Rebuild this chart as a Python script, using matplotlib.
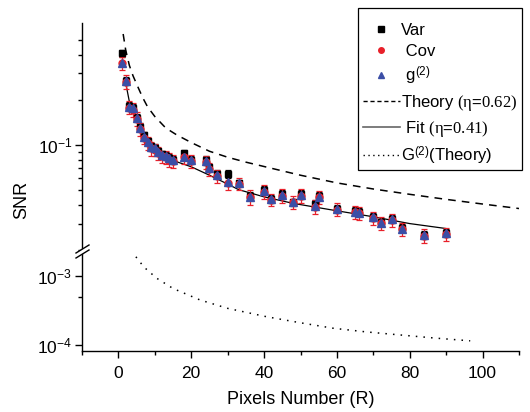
import matplotlib
matplotlib.use("Agg")
import matplotlib.pyplot as plt
from matplotlib.lines import Line2D
from matplotlib.patches import Polygon, Rectangle
from matplotlib.ticker import FixedLocator, NullFormatter

plt.rcParams['font.family'] = ['Liberation Sans', 'DejaVu Sans']
plt.rcParams['mathtext.fontset'] = 'custom'
plt.rcParams['mathtext.rm'] = 'Liberation Serif'
plt.rcParams['mathtext.sf'] = 'Liberation Sans'
plt.rcParams['mathtext.it'] = 'Liberation Serif:italic'

# measured points
pixels = [1, 2, 3, 4, 5, 6, 7, 8, 9, 10, 11, 12, 13, 14, 15, 18, 20, 24, 25, 27,
          30, 33, 36, 40, 42, 45, 48, 50, 54, 55, 60, 65, 66, 70, 72, 75, 78, 84, 90]
snr_var = [0.409, 0.268, 0.182, 0.178, 0.152, 0.133, 0.116, 0.106, 0.098, 0.096,
           0.091, 0.087, 0.085, 0.082, 0.080, 0.088, 0.080, 0.079, 0.071, 0.064,
           0.064, 0.056, 0.046, 0.050, 0.044, 0.047, 0.0415, 0.047, 0.0405, 0.046,
           0.0378, 0.0362, 0.0358, 0.0334, 0.0306, 0.0323, 0.0281, 0.0252, 0.0259]
snr_cov = [0.350, 0.265, 0.178, 0.172, 0.150, 0.128, 0.112, 0.103, 0.095, 0.093,
           0.088, 0.084, 0.083, 0.080, 0.078, 0.083, 0.078, 0.077, 0.069, 0.062,
           0.056, 0.055, 0.045, 0.049, 0.043, 0.046, 0.0418, 0.046, 0.0388, 0.045,
           0.0372, 0.0358, 0.0352, 0.0328, 0.0302, 0.0318, 0.0276, 0.0249, 0.0256]
snr_g2 = [0.350, 0.268, 0.180, 0.176, 0.151, 0.130, 0.114, 0.105, 0.097, 0.095,
          0.090, 0.086, 0.0845, 0.0815, 0.0794, 0.0836, 0.079, 0.078, 0.070, 0.063,
          0.057, 0.0555, 0.0452, 0.0494, 0.0435, 0.0464, 0.0419, 0.0464, 0.0392, 0.0452,
          0.0373, 0.0359, 0.0354, 0.033, 0.0304, 0.032, 0.0278, 0.0251, 0.0258]
err_cov = [0.035, 0.027, 0.018, 0.018, 0.015, 0.013, 0.011, 0.010, 0.010, 0.009,
           0.009, 0.008, 0.008, 0.008, 0.008, 0.008, 0.008, 0.008, 0.007, 0.006,
           0.006, 0.005, 0.005, 0.005, 0.004, 0.005, 0.004, 0.005, 0.004, 0.0045,
           0.0037, 0.0036, 0.0035, 0.0033, 0.003, 0.0032, 0.0028, 0.0025, 0.0026]
err_var = [0.020, 0.016, 0.011, 0.011, 0.009, 0.008, 0.007, 0.006, 0.006, 0.006,
           0.005, 0.005, 0.005, 0.005, 0.005, 0.005, 0.005, 0.005, 0.004, 0.004,
           0.004, 0.003, 0.003, 0.003, 0.0026, 0.003, 0.0025, 0.003, 0.0024, 0.0027,
           0.0022, 0.0022, 0.0021, 0.002, 0.0018, 0.0019, 0.0017, 0.0015, 0.0016]

# curves
theory_x = [1.3, 2, 3, 4, 5, 6, 7, 8, 10, 13, 16, 20, 25, 30, 35, 40, 50, 60, 70, 80, 90, 100, 110]
theory_y = [0.55, 0.43, 0.34, 0.29, 0.255, 0.225, 0.2, 0.18, 0.155, 0.13, 0.117, 0.104,
            0.091, 0.083, 0.077, 0.072, 0.063, 0.056, 0.051, 0.047, 0.0435, 0.0405, 0.0378]
fit_x = [2, 3, 4, 5, 6, 7, 8, 10, 12, 15, 20, 25, 30, 33, 40, 48, 60, 70, 80, 90]
fit_y = [0.26, 0.195, 0.165, 0.145, 0.128, 0.116, 0.107, 0.095, 0.087, 0.079, 0.0717,
         0.063, 0.055, 0.0505, 0.0452, 0.0409, 0.0365, 0.0333, 0.030, 0.0278]
G2_x = [4.8, 7, 10.5, 15, 22.4, 30, 40.7, 50, 59, 68, 77.3, 87, 96.6]
G2_y = [1.9e-3, 1.35e-3, 9.3e-4, 6.6e-4, 4.5e-4, 3.4e-4, 2.57e-4, 2.1e-4, 1.75e-4,
        1.55e-4, 1.4e-4, 1.26e-4, 1.15e-4]

RED = '#e8202a'
BLUE = '#3b4ea6'
W, H = 530, 412

fig = plt.figure(figsize=(5.3, 4.12), dpi=100)
ax_top = fig.add_axes([82 / W, 1 - 252 / H, 437 / W, 229 / H])
ax_bot = fig.add_axes([82 / W, 1 - 351 / H, 437 / W, 99 / H])

for ax in (ax_top, ax_bot):
    ax.set_yscale('log')
    ax.set_xlim(-10, 110)
    ax.spines['top'].set_visible(False)
    ax.spines['right'].set_visible(False)
    for s in ax.spines.values():
        s.set_linewidth(1.0)
    ax.tick_params(which='major', direction='out', length=5, width=1, labelsize=12.5)
    ax.tick_params(which='minor', direction='out', length=3, width=1)
    ax.tick_params(axis='y', pad=2)

ax_top.spines['bottom'].set_visible(False)
ax_top.tick_params(axis='x', which='both', bottom=False, labelbottom=False)
ax_top.set_ylim(0.0194, 0.651)
ax_top.yaxis.set_major_locator(FixedLocator([0.1]))
ax_top.yaxis.set_minor_locator(FixedLocator([0.02, 0.03, 0.04, 0.05, 0.06, 0.07, 0.08, 0.09,
                                             0.2, 0.3, 0.4, 0.5]))
ax_top.yaxis.set_minor_formatter(NullFormatter())
ax_top.set_yticklabels([r'$\mathregular{10^{-1}}$'])

ax_bot.set_ylim(8.19e-5, 2.23e-3)
ax_bot.yaxis.set_major_locator(FixedLocator([1e-4, 1e-3]))
ax_bot.yaxis.set_minor_locator(FixedLocator([5e-4]))
ax_bot.yaxis.set_minor_formatter(NullFormatter())
ax_bot.set_yticklabels([r'$\mathregular{10^{-4}}$', r'$\mathregular{10^{-3}}$'])
ax_bot.set_xticks([0, 20, 40, 60, 80, 100])
ax_bot.set_xticks([-10, 10, 30, 50, 70, 90, 110], minor=True)
ax_bot.tick_params(axis='x', pad=6)
ax_bot.set_xlabel('Pixels Number (R)', fontsize=13, labelpad=7)

# curves
ax_top.plot(theory_x, theory_y, color='black', lw=1.1, ls=(0, (5, 4)))
ax_top.plot(fit_x, fit_y, color='black', lw=0.9)
ax_bot.plot(G2_x, G2_y, color='black', lw=1.1, ls=(0, (1, 4)), clip_on=False)

# points with error bars
ax_top.errorbar(pixels, snr_var, yerr=err_var, fmt='none', ecolor='black',
                elinewidth=0.9, capsize=2.5, capthick=0.9)
ax_top.errorbar(pixels, snr_cov, yerr=err_cov, fmt='none', ecolor=RED,
                elinewidth=0.9, capsize=2.5, capthick=0.9)
ax_top.plot(pixels, snr_var, 's', color='black', ms=5, ls='none')
ax_top.plot(pixels, snr_cov, 'o', color=RED, ms=5, ls='none')
ax_top.plot(pixels, snr_g2, '^', color=BLUE, ms=5.5, ls='none')

fig.text(22 / W, 1 - 200 / H, 'SNR', rotation=90, fontsize=13, ha='center', va='center')

# axis break marks
gap = Polygon([(76 / W, 1 - 258 / H), (89 / W, 1 - 250 / H),
               (89 / W, 1 - 245 / H), (76 / W, 1 - 253 / H)],
              closed=True, transform=fig.transFigure, facecolor='white',
              edgecolor='none', zorder=5)
fig.add_artist(gap)
for dy in (0, 5):
    fig.add_artist(Line2D([76 / W, 89 / W], [1 - (258 - dy) / H, 1 - (250 - dy) / H],
                          transform=fig.transFigure, color='black', lw=1, zorder=6))

# legend box drawn separately, legend itself frameless
box = Rectangle((358 / W, 1 - 170 / H), 164 / W, 162 / H, transform=fig.transFigure,
                facecolor='white', edgecolor='black', lw=0.9, zorder=8)
fig.add_artist(box)
handles = [
    Line2D([], [], ls='none', marker='s', color='black', ms=4),
    Line2D([], [], ls='none', marker='o', color=RED, ms=4),
    Line2D([], [], ls='none', marker='^', color=BLUE, ms=5),
    Line2D([], [], ls=(0, (3, 2)), color='black', lw=1),
    Line2D([], [], ls='-', color='0.4', lw=1.2),
    Line2D([], [], ls=(0, (1, 2.5)), color='black', lw=1),
]
labels = ['Var', ' Cov', r' g$^{\mathsf{(2)}}$',
          r'Theory $\mathrm{(\eta}$=$\mathrm{0.62)}$',
          r' Fit $\mathrm{(\eta}$=$\mathrm{0.41)}$',
          r'G$^{\mathsf{(2)}}$(Theory)']
leg = fig.legend(handles, labels, loc='upper left', bbox_to_anchor=(363 / W, 1 - 23 / H),
                 fontsize=12, frameon=False, handlelength=2.2,
                 handletextpad=0.1, labelspacing=0.35, borderpad=0, borderaxespad=0)
leg.set_zorder(9)

fig.savefig('out.png', dpi=100)
